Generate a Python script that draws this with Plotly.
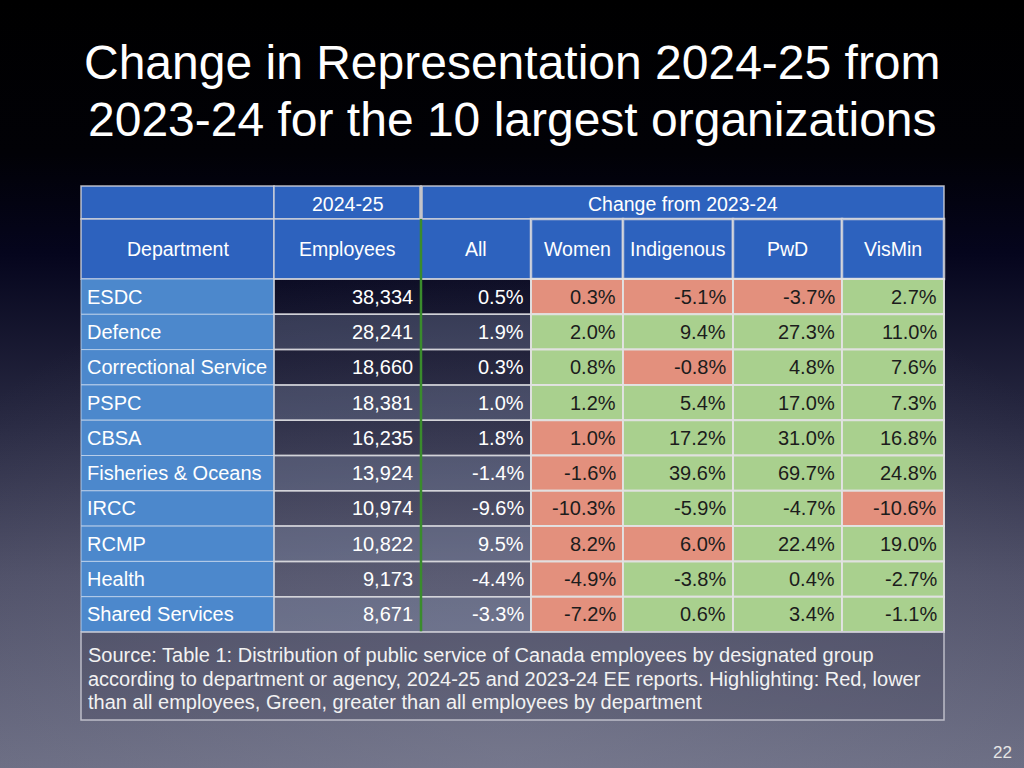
import base64
import plotly.graph_objects as go

# Table values
title_lines = ["Change in Representation 2024-25 from",
               "2023-24 for the 10 largest organizations"]
departments = ["ESDC", "Defence", "Correctional Service", "PSPC", "CBSA",
               "Fisheries & Oceans", "IRCC", "RCMP", "Health", "Shared Services"]
employees = [38334, 28241, 18660, 18381, 16235, 13924, 10974, 10822, 9173, 8671]
change_all = [0.5, 1.9, 0.3, 1.0, 1.8, -1.4, -9.6, 9.5, -4.4, -3.3]
change_women = [0.3, 2.0, 0.8, 1.2, 1.0, -1.6, -10.3, 8.2, -4.9, -7.2]
change_indigenous = [-5.1, 9.4, -0.8, 5.4, 17.2, 39.6, -5.9, 6.0, -3.8, 0.6]
change_pwd = [-3.7, 27.3, 4.8, 17.0, 31.0, 69.7, -4.7, 22.4, 0.4, 3.4]
change_vismin = [2.7, 11.0, 7.6, 7.3, 16.8, 24.8, -10.6, 19.0, -2.7, -1.1]
column_headers = ["Department", "Employees", "All", "Women", "Indigenous", "PwD", "VisMin"]
span_headers = ["", "2024-25", "Change from 2023-24"]
source_lines = [
    "Source: Table 1: Distribution of public service of Canada employees by designated group",
    "according to department or agency, 2024-25 and 2023-24 EE reports. Highlighting: Red, lower",
    "than all employees, Green, greater than all employees by department",
]
page_number = "22"

# layout of the table on the slide (pixels)
col_edges = [81, 274, 421, 531, 623, 733, 842, 944]
head_top, head_mid, head_bot = 186, 219, 279
row_h = 35.3
source_bot = 720
source_line_y = [655, 679, 702]
title_y = [62, 119]

FONT = "Liberation Sans"
HEAD_BLUE = "#2d62be"
DEPT_BLUE = "#4c88cc"
RED = "#e3907d"
GREEN = "#a9d08e"
GRID = "rgba(215,215,220,0.85)"

# slide background gradient as an svg image
svg = """<svg xmlns='http://www.w3.org/2000/svg' width='1024' height='768'>
<defs><linearGradient id='g' x1='0' y1='0' x2='0' y2='1'>
<stop offset='0' stop-color='#000000'/><stop offset='0.2' stop-color='#010106'/>
<stop offset='0.33' stop-color='#05051d'/><stop offset='0.55' stop-color='#282942'/>
<stop offset='0.75' stop-color='#4d4e66'/><stop offset='1' stop-color='#6a6c82'/>
</linearGradient>
<radialGradient id='r' cx='0.5' cy='1' r='0.7'>
<stop offset='0' stop-color='#8a8ca0' stop-opacity='0.35'/>
<stop offset='1' stop-color='#8a8ca0' stop-opacity='0'/></radialGradient></defs>
<rect width='1024' height='768' fill='url(#g)'/>
<rect width='1024' height='768' fill='url(#r)'/></svg>"""
bg_src = "data:image/svg+xml;base64," + base64.b64encode(svg.encode()).decode()

fig = go.Figure()
fig.add_trace(go.Scatter(x=[0, 1024], y=[0, 768], mode="markers",
                         marker=dict(opacity=0), hoverinfo="skip", showlegend=False))

shapes = []
annots = []


def cell(x0, x1, y0, y1, fill, line_color=GRID, lw=1.5):
    shapes.append(dict(type="rect", xref="x", yref="y", x0=x0, x1=x1, y0=y0, y1=y1,
                       fillcolor=fill, line=dict(color=line_color, width=lw), layer="above"))


def text(x, y, s, anchor="center", color="white", size=20):
    annots.append(dict(x=x, y=y, xref="x", yref="y", text=s, showarrow=False,
                       xanchor=anchor, yanchor="middle",
                       font=dict(family=FONT, size=size, color=color)))


# header row 1 (spanning cells)
spans = [(col_edges[0], col_edges[1]), (col_edges[1], col_edges[2]), (col_edges[2], col_edges[-1])]
for (x0, x1), label in zip(spans, span_headers):
    cell(x0, x1, head_top, head_mid, HEAD_BLUE)
    if label:
        text((x0 + x1) / 2, (head_top + head_mid) / 2 + 1, label, size=19.5)

# header row 2
for i, label in enumerate(column_headers):
    x0, x1 = col_edges[i], col_edges[i + 1]
    lw = 2.5 if i >= 3 else 1.5
    cell(x0, x1, head_mid, head_bot, HEAD_BLUE, lw=lw)
    text((x0 + x1) / 2, (head_mid + head_bot) / 2, label, size=19.5)

# body rows
groups = [change_women, change_indigenous, change_pwd, change_vismin]
for r, dept in enumerate(departments):
    y0 = head_bot + r * row_h
    y1 = y0 + row_h
    yc = (y0 + y1) / 2
    cell(col_edges[0], col_edges[1], y0, y1, DEPT_BLUE, line_color="rgba(190,210,235,0.9)", lw=1)
    text(col_edges[0] + 4, yc, dept, anchor="left")

    shade = "rgba(0,0,0,0)" if r % 2 == 0 else "rgba(140,155,185,0.28)"
    cell(col_edges[1], col_edges[2], y0, y1, shade)
    text(col_edges[2] - 6, yc, f"{employees[r]:,}", anchor="right")
    cell(col_edges[2], col_edges[3], y0, y1, shade)
    text(col_edges[3] - 5, yc, f"{change_all[r]:.1f}%", anchor="right")

    for g, vals in enumerate(groups):
        x0, x1 = col_edges[3 + g], col_edges[4 + g]
        fill = GREEN if vals[r] > change_all[r] else RED
        cell(x0, x1, y0, y1, fill, line_color="rgba(225,225,225,0.95)", lw=2)
        text(x1 - 5, yc, f"{vals[r]:.1f}%", anchor="right", color="#1c1c1c")

body_bot = head_bot + len(departments) * row_h

# separator lines
shapes.append(dict(type="line", xref="x", yref="y", x0=col_edges[2], x1=col_edges[2],
                   y0=head_mid, y1=body_bot, line=dict(color="#3a8c2c", width=2.5), layer="above"))
shapes.append(dict(type="line", xref="x", yref="y", x0=col_edges[2], x1=col_edges[2],
                   y0=head_top, y1=head_mid, line=dict(color="#c4c4c8", width=3.5), layer="above"))

# source box
cell(col_edges[0], col_edges[-1], body_bot, source_bot, "rgba(60,60,85,0.25)",
     line_color="rgba(200,200,210,0.9)", lw=1.5)
for line, y in zip(source_lines, source_line_y):
    text(col_edges[0] + 5, y, line, anchor="left", color="#f2f2f2", size=20)

# title and page number
for line, y in zip(title_lines, title_y):
    annots.append(dict(x=512, y=y, xref="x", yref="y", text=line,
                       showarrow=False, xanchor="center", yanchor="middle",
                       font=dict(family=FONT, size=48, color="white")))
annots.append(dict(x=1002, y=752, xref="x", yref="y", text=page_number, showarrow=False,
                   font=dict(family=FONT, size=17, color="#e6e6e6")))

fig.update_layout(
    width=1024, height=768,
    margin=dict(l=0, r=0, t=0, b=0),
    paper_bgcolor="black", plot_bgcolor="rgba(0,0,0,0)",
    xaxis=dict(range=[0, 1024], visible=False, fixedrange=True),
    yaxis=dict(range=[768, 0], visible=False, fixedrange=True),
    shapes=shapes, annotations=annots,
    images=[dict(source=bg_src, xref="paper", yref="paper", x=0, y=1, sizex=1, sizey=1,
                 sizing="stretch", xanchor="left", yanchor="top", layer="below")],
    showlegend=False,
)

fig.write_html("out.html", config={"displayModeBar": False},
               post_script="document.body.style.margin='0';")
